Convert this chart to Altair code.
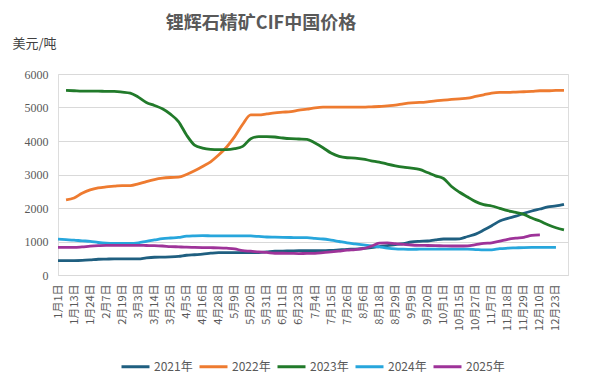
import altair as alt
import pandas as pd

x_labels = ["1月1日", "1月13日", "1月24日", "2月7日", "2月19日", "3月3日", "3月14日", "3月25日",
            "4月5日", "4月16日", "4月28日", "5月9日", "5月20日", "5月31日", "6月11日", "6月23日",
            "7月4日", "7月15日", "7月26日", "8月6日", "8月18日", "8月29日", "9月9日", "9月20日",
            "10月1日", "10月15日", "10月27日", "11月7日", "11月18日", "11月29日", "12月10日", "12月23日"]

# position index of each sample along the category axis (labels every 8 positions)
idx = list(range(0, 253, 4))

s2021 = [430, 430, 430, 435, 450, 470, 475, 480, 480, 480, 480, 510, 530, 535, 540, 555,
         590, 605, 620, 650, 670, 670, 670, 670, 670, 670, 690, 710, 715, 720, 725, 725,
         725, 725, 735, 750, 765, 775, 795, 820, 850, 880, 905, 935, 985, 1005, 1015, 1050,
         1075, 1075, 1080, 1150, 1220, 1340, 1470, 1610, 1690, 1755, 1840, 1910, 1970, 2030, 2060, 2110]
s2022 = [None, 2240, 2300, 2440, 2540, 2600, 2630, 2650, 2670, 2670, 2720, 2790, 2850, 2890, 2910, 2920,
         3000, 3110, 3240, 3380, 3580, 3820, 4130, 4500, 4780, 4780, 4810, 4840, 4860, 4880, 4920, 4950,
         4990, 5010, 5010, 5010, 5010, 5010, 5010, 5020, 5030, 5050, 5070, 5110, 5140, 5150, 5170, 5200,
         5220, 5240, 5260, 5280, 5330, 5380, 5430, 5450, 5450, 5460, 5470, 5480, 5500, 5500, 5510, 5510]
s2023 = [None, 5510, 5500, 5490, 5490, 5490, 5480, 5480, 5460, 5430, 5310, 5150, 5060, 4960, 4800, 4580,
         4180, 3880, 3790, 3750, 3740, 3740, 3770, 3840, 4070, 4130, 4130, 4120, 4090, 4070, 4060, 4050,
         3940, 3800, 3640, 3540, 3500, 3490, 3460, 3410, 3370, 3310, 3260, 3220, 3190, 3150, 3060, 2960,
         2880, 2640, 2470, 2330, 2190, 2100, 2060, 1990, 1920, 1870, 1810, 1700, 1610, 1500, 1410, 1350]
s2024 = [1070, 1055, 1040, 1020, 1005, 970, 950, 945, 945, 940, 960, 1005, 1045, 1085, 1105, 1120,
         1160, 1170, 1175, 1170, 1165, 1165, 1165, 1170, 1165, 1150, 1135, 1130, 1125, 1120, 1115, 1115,
         1095, 1075, 1040, 1000, 960, 930, 900, 870, 840, 805, 780, 770, 765, 770, 775, 775,
         775, 775, 775, 770, 760, 750, 750, 785, 800, 810, 820, 825, 825, 825, 825, None]
s2025 = [825, 825, 825, 840, 860, 875, 885, 885, 885, 885, 885, 880, 875, 865, 850, 840,
         830, 825, 820, 815, 810, 800, 780, 725, 710, 690, 675, 650, 650, 645, 640, 645,
         645, 665, 690, 715, 740, 760, 785, 860, 950, 960, 935, 915, 895, 885, 880, 875,
         870, 865, 865, 870, 905, 945, 960, 1010, 1065, 1100, 1125, 1180, 1195, None, None, None]

names = ["2021年", "2022年", "2023年", "2024年", "2025年"]
colors = ["#1f5f80", "#ee7b30", "#217a2a", "#27a6dc", "#9e3399"]
y_ticks = [0, 1000, 2000, 3000, 4000, 5000, 6000]

rows = []
for name, vals in zip(names, [s2021, s2022, s2023, s2024, s2025]):
    for i, v in zip(idx, vals):
        if v is not None:
            rows.append({"i": i, "v": v, "s": name})
df = pd.DataFrame(rows)

label_js = "[" + ",".join("'" + l + "'" for l in x_labels) + "]"
tick_pos = list(range(0, 8 * len(x_labels), 8))

CJK = "Noto Sans CJK SC"
SERIF = "'Liberation Serif', 'Times New Roman', serif"

chart = alt.Chart(df).mark_line(strokeWidth=2.8, interpolate="monotone").encode(
    x=alt.X("i:Q",
            scale=alt.Scale(domain=[0, 254], nice=False, zero=False),
            axis=alt.Axis(values=tick_pos, labelExpr=label_js + "[round(datum.value/8)]",
                          labelAngle=270, labelAlign="right", labelBaseline="middle",
                          labelFont=CJK, labelFontSize=11, labelColor="#595959",
                          labelPadding=9, ticks=False, tickSize=0, grid=False,
                          domainColor="#d9d9d9", domainWidth=1, title=None,
                          labelOverlap=False, labelFlush=False)),
    y=alt.Y("v:Q",
            scale=alt.Scale(domain=[0, 6000], nice=False),
            axis=alt.Axis(values=y_ticks, format="d", title="美元/吨", titleAngle=0,
                          titleX=-46, titleY=-31,
                          titleAlign="left", titleBaseline="middle", titleFont=CJK,
                          titleFontSize=13, titleFontWeight="normal", titleColor="#404040",
                          labelFont=SERIF, labelFontSize=12, labelColor="#595959",
                          labelPadding=10, ticks=False, tickSize=0, domain=False,
                          gridColor="#d9d9d9", gridWidth=1)),
    color=alt.Color("s:N",
                    scale=alt.Scale(domain=names, range=colors),
                    legend=alt.Legend(orient="none", legendX=62, legendY=277, direction="horizontal",
                                      title=None, symbolType="stroke", symbolSize=784,
                                      symbolStrokeWidth=3, labelFont=CJK, labelFontSize=12,
                                      labelColor="#595959", labelOffset=3, columnPadding=0,
                                      columns=5)),
).properties(
    width=510,
    height=201,
    autosize=alt.AutoSizeParams(type="none"),
    padding={"left": 50, "top": 66, "right": 22, "bottom": 106},
    title=alt.TitleParams("锂辉石精矿CIF中国价格", font=CJK, fontSize=18, fontWeight="bold",
                          color="#595959", anchor="middle", frame="group", dx=-52, offset=4),
).configure_view(stroke=None).configure(background="white")

chart.save("out.html", embed_options={"renderer": "svg", "actions": False})
